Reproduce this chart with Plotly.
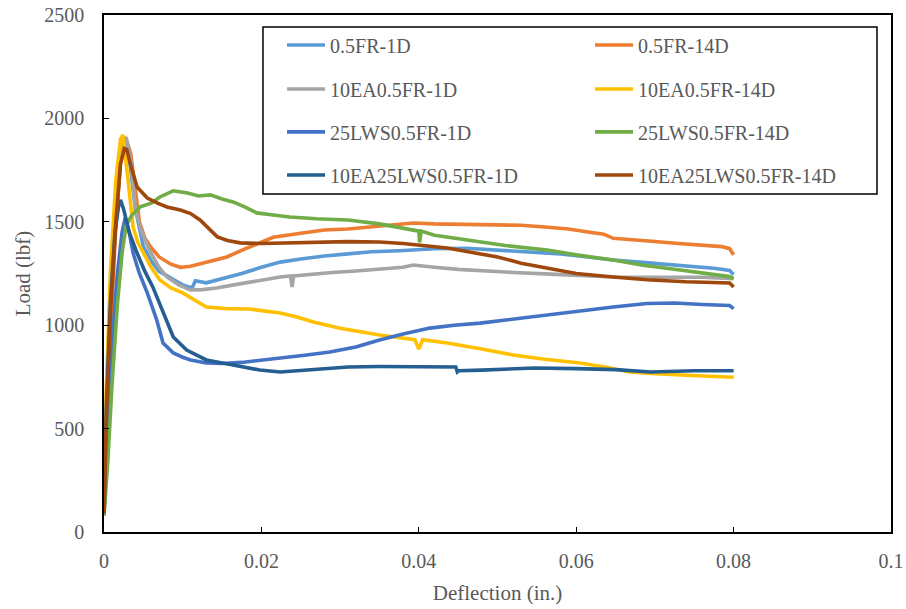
import plotly.graph_objects as go

# Load-deflection curves (deflection in inches, load in lbf)
names = [
    "0.5FR-1D", "0.5FR-14D",
    "10EA0.5FR-1D", "10EA0.5FR-14D",
    "25LWS0.5FR-1D", "25LWS0.5FR-14D",
    "10EA25LWS0.5FR-1D", "10EA25LWS0.5FR-14D",
]
colors = ["#5B9BD5", "#ED7D31", "#A5A5A5", "#FFC000",
          "#4472C4", "#70AD47", "#255E91", "#9E480E"]

fr_1d_x = [0, 0.0003, 0.0008, 0.0015, 0.0022, 0.0027, 0.0033, 0.004, 0.005, 0.006, 0.007, 0.0085,
           0.0100, 0.0112, 0.0116, 0.013, 0.015, 0.0175, 0.020, 0.0224, 0.025, 0.028, 0.031, 0.034,
           0.0375, 0.0393, 0.042, 0.046, 0.049, 0.052, 0.055, 0.058, 0.0615, 0.0647, 0.068, 0.0715,
           0.0745, 0.0775, 0.0795, 0.080]
fr_1d_y = [90, 520, 1000, 1500, 1850, 1905, 1780, 1560, 1380, 1310, 1260, 1225,
           1195, 1180, 1215, 1205, 1225, 1250, 1280, 1305, 1320, 1335, 1345, 1355,
           1360, 1365, 1370, 1372, 1365, 1355, 1350, 1345, 1330, 1315, 1305, 1295,
           1285, 1275, 1265, 1245]

fr_14d_x = [0, 0.0003, 0.0008, 0.0015, 0.0022, 0.0028, 0.0034, 0.004, 0.0045, 0.0052, 0.006, 0.007,
            0.0085, 0.0097, 0.011, 0.0125, 0.014, 0.0156, 0.018, 0.0215, 0.025, 0.028, 0.031, 0.034,
            0.037, 0.0393, 0.042, 0.046, 0.05, 0.053, 0.056, 0.059, 0.0613, 0.0635, 0.0647, 0.067,
            0.070, 0.073, 0.076, 0.0785, 0.0795, 0.080]
fr_14d_y = [80, 480, 950, 1480, 1840, 1900, 1830, 1650, 1500, 1420, 1375, 1330,
            1295, 1280, 1285, 1300, 1315, 1330, 1370, 1425, 1445, 1460, 1465, 1475,
            1485, 1494, 1490, 1488, 1485, 1483, 1475, 1465, 1452, 1440, 1420, 1415,
            1405, 1395, 1385, 1380, 1370, 1340]

ea_1d_x = [0, 0.0003, 0.0008, 0.0015, 0.0022, 0.0028, 0.0034, 0.004, 0.0048, 0.0058, 0.007, 0.008,
           0.0095, 0.011, 0.0125, 0.0143, 0.0165, 0.0185, 0.021, 0.0224, 0.0237, 0.0239, 0.0241,
           0.026, 0.029, 0.032, 0.035, 0.038, 0.0393, 0.0405, 0.042, 0.045, 0.048, 0.052, 0.056,
           0.06, 0.0647, 0.068, 0.072, 0.076, 0.080]
ea_1d_y = [100, 650, 1150, 1600, 1870, 1910, 1800, 1560, 1450, 1360, 1280, 1233,
           1195, 1170, 1172, 1180, 1195, 1209, 1225, 1233, 1238, 1185, 1238,
           1245, 1255, 1262, 1270, 1280, 1291, 1285, 1280, 1270, 1262, 1255, 1248,
           1240, 1233, 1232, 1230, 1232, 1225]

ea_14d_x = [0, 0.0003, 0.0008, 0.0015, 0.0021, 0.0024, 0.003, 0.0037, 0.0043, 0.005, 0.006, 0.0071,
            0.0085, 0.010, 0.0115, 0.013, 0.0155, 0.0185, 0.0205, 0.0224, 0.0245, 0.0266, 0.030,
            0.035, 0.0395, 0.04, 0.0405, 0.0436, 0.048, 0.052, 0.056, 0.0605, 0.064, 0.0668, 0.070,
            0.074, 0.0775, 0.080]
ea_14d_y = [100, 700, 1250, 1700, 1900, 1920, 1720, 1475, 1400, 1349, 1280, 1219,
            1180, 1156, 1120, 1088, 1080, 1078, 1068, 1059, 1040, 1016, 985,
            953, 930, 885, 930, 914, 885, 856, 835, 817, 795, 774, 765,
            760, 752, 748]

lws_1d_x = [0, 0.0004, 0.001, 0.0017, 0.0023, 0.0027, 0.0032, 0.0037, 0.0045, 0.0055, 0.0067, 0.0075,
            0.0088, 0.010, 0.011, 0.013, 0.015, 0.0175, 0.020, 0.0224, 0.0255, 0.0287, 0.032, 0.035,
            0.038, 0.0414, 0.0445, 0.0478, 0.052, 0.0563, 0.060, 0.0647, 0.069, 0.0725, 0.076,
            0.0795, 0.080]
lws_1d_y = [90, 450, 900, 1250, 1450, 1520, 1450, 1349, 1250, 1156, 1025, 914,
            866, 845, 832, 817, 815, 820, 830, 841, 855, 870, 895, 928,
            958, 986, 1000, 1010, 1030, 1049, 1068, 1088, 1105, 1107, 1100,
            1095, 1080]

lws_14d_x = [0, 0.0005, 0.001, 0.0017, 0.0023, 0.0028, 0.0035, 0.0046, 0.006, 0.0071, 0.0088, 0.0105,
             0.012, 0.0135, 0.015, 0.0165, 0.018, 0.0194, 0.0215, 0.0236, 0.027, 0.031, 0.035,
             0.0385, 0.04, 0.0401, 0.0403, 0.042, 0.045, 0.0478, 0.051, 0.0563, 0.06, 0.0647,
             0.0685, 0.0732, 0.0765, 0.0795, 0.08]
lws_14d_y = [80, 350, 700, 1100, 1350, 1480, 1530, 1572, 1590, 1620, 1650, 1640,
             1625, 1630, 1610, 1595, 1570, 1543, 1533, 1523, 1515, 1509, 1490,
             1465, 1455, 1400, 1455, 1435, 1418, 1402, 1385, 1364, 1340, 1315,
             1290, 1267, 1250, 1235, 1225]

ealws_1d_x = [0, 0.0003, 0.0008, 0.0014, 0.0019, 0.0021, 0.0025, 0.0032, 0.0042, 0.0052, 0.0062, 0.0075,
              0.0088, 0.0105, 0.013, 0.0164, 0.0198, 0.0224, 0.026, 0.031, 0.035, 0.04, 0.0447,
              0.0449, 0.0451, 0.048, 0.0547, 0.06, 0.065, 0.0695, 0.075, 0.08]
ealws_1d_y = [100, 600, 1100, 1450, 1590, 1605, 1560, 1450, 1349, 1260, 1185, 1059,
              943, 880, 832, 808, 783, 774, 785, 798, 800, 798, 798,
              774, 780, 783, 793, 790, 785, 774, 780, 780]

ealws_14d_x = [0, 0.0003, 0.0008, 0.0015, 0.0021, 0.0026, 0.0029, 0.0033, 0.0042, 0.0055, 0.0068, 0.008,
               0.0097, 0.011, 0.0122, 0.0131, 0.0139, 0.0144, 0.0157, 0.0173, 0.020, 0.0236, 0.027,
               0.031, 0.035, 0.038, 0.0436, 0.047, 0.05, 0.053, 0.0563, 0.06, 0.0647, 0.069, 0.074,
               0.0795, 0.08]
ealws_14d_y = [90, 550, 1050, 1500, 1780, 1855, 1850, 1785, 1668, 1615, 1590, 1572,
               1557, 1540, 1509, 1475, 1446, 1427, 1410, 1398, 1395, 1398, 1400,
               1404, 1402, 1395, 1373, 1350, 1330, 1300, 1277, 1250, 1233, 1220, 1210,
               1204, 1185]

xs = [fr_1d_x, fr_14d_x, ea_1d_x, ea_14d_x, lws_1d_x, lws_14d_x, ealws_1d_x, ealws_14d_x]
ys = [fr_1d_y, fr_14d_y, ea_1d_y, ea_14d_y, lws_1d_y, lws_14d_y, ealws_1d_y, ealws_14d_y]

x_ticks = [0, 0.02, 0.04, 0.06, 0.08, 0.1]
x_tick_text = ["0", "0.02", "0.04", "0.06", "0.08", "0.1"]
y_ticks = [0, 500, 1000, 1500, 2000, 2500]

FONT = "'Liberation Serif', 'Times New Roman', 'DejaVu Serif', serif"
TXT = "#595959"

# one legend per row: two entries side by side
legend_ids = ["legend", "legend2", "legend3", "legend4"]

fig = go.Figure()
for i, (name, col, x, y) in enumerate(zip(names, colors, xs, ys)):
    fig.add_trace(go.Scatter(
        x=x, y=y, mode="lines", name=name,
        line=dict(color=col, width=3.6),
        legend=legend_ids[i // 2],
    ))

row_y = [0.942, 0.857, 0.774, 0.6905]
legend_common = dict(
    orientation="h", x=0.2262, xanchor="left", yanchor="middle",
    entrywidth=255, itemwidth=38, bgcolor="rgba(0,0,0,0)", borderwidth=0,
    font=dict(family=FONT, size=20, color=TXT),
)
layout_legends = {}
for lid, ry in zip(legend_ids, row_y):
    layout_legends[lid] = dict(legend_common, y=ry)

fig.update_layout(
    width=906, height=609,
    margin=dict(l=104, r=15, t=15, b=77, autoexpand=False),
    paper_bgcolor="white", plot_bgcolor="white",
    font=dict(family=FONT, size=20, color=TXT),
    showlegend=True,
    shapes=[dict(type="rect", xref="paper", yref="paper",
                 x0=0.2020, x1=0.9822, y0=0.6538, y1=0.9768,
                 line=dict(color="black", width=1.5), fillcolor="rgba(0,0,0,0)")],
    **layout_legends,
)

for upd, rng, tv, tt, title, lab_gap, title_gap in (
    (fig.update_xaxes, [0, 0.1], x_ticks, x_tick_text, "Deflection (in.)", 10, 15),
    (fig.update_yaxes, [0, 2500], y_ticks, None, "Load (lbf)", 14, 8),
):
    upd(
        range=rng, tickvals=tv, ticktext=tt,
        showline=True, linecolor="black", linewidth=1.5, mirror=True,
        ticks="inside", ticklen=5, tickcolor="black", tickwidth=1,
        showgrid=False, zeroline=False,
        tickfont_family=FONT, tickfont_size=20, tickfont_color=TXT,
        ticklabelstandoff=lab_gap,
        title_text=title, title_font_family=FONT, title_font_size=21,
        title_font_color=TXT, title_standoff=title_gap,
    )

fig.write_html("out.html")
